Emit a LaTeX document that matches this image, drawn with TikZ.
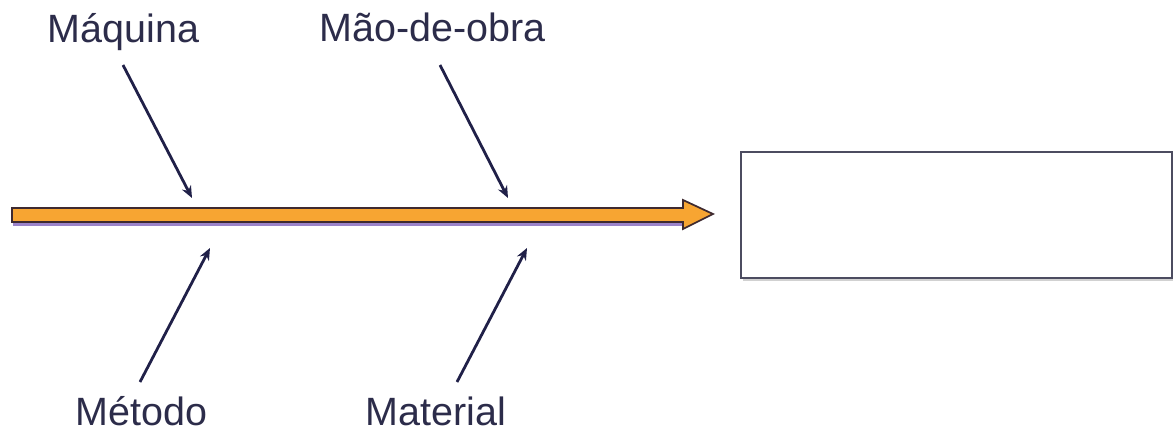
\documentclass[tikz,border=0pt]{standalone}
\usepackage{fontspec}
\setmainfont{Liberation Sans}
\usetikzlibrary{arrows.meta}
\definecolor{spineorange}{HTML}{F7A532}
\definecolor{spineedge}{HTML}{3E2A30}
\definecolor{spineshade}{HTML}{7A5AB8}
\definecolor{causeink}{HTML}{202048}
\definecolor{labelink}{HTML}{2C2C4A}
\definecolor{boxedge}{HTML}{4C4C60}
\tikzset{
  causelabel/.style={anchor=base, text=labelink, inner sep=0pt,
    font=\fontsize{29.6pt}{34pt}\selectfont},
  causearrow/.style={draw=causeink, line width=2.1pt,
    -{Stealth[length=9pt,width=7.5pt]}},
  effectbox/.style={draw=boxedge, line width=1.4pt, fill=white},
  spine/.style={draw=spineedge, line width=1.3pt, fill=spineorange, line join=miter},
}
\begin{document}
\begin{tikzpicture}[x=0.75pt, y=-0.75pt]
\useasboundingbox (0,0) rectangle (1173,435);

% effect box with a soft shadow
\fill[black!18] (743,155) rectangle (1173,281);
\node[effectbox, minimum width=431*0.75pt, minimum height=126*0.75pt,
      anchor=north west, inner sep=0pt] (effect) at (740,151) {};

% main spine arrow
\coordinate (tail) at (12,215);
\coordinate (tip) at (713,214);
\fill[spineshade!75] (13,219) -- (684,219) -- (684,226) -- (13,226) -- cycle;
\path[spine] (tail |- 0,208) -- (683,208) -- (683,200) -- (tip) -- (683,229)
  -- (683,222) -- (tail |- 0,222) -- cycle;

% cause labels
\node[causelabel] (maq) at (123.5,43) {Máquina};
\node[causelabel] (mao) at (432.5,42) {Mão-de-obra};
\node[causelabel] (met) at (141.5,425) {Método};
\node[causelabel] (mat) at (436,425) {Material};

% arrow ends on the spine
\coordinate (maqS) at (123,65);
\coordinate (maqE) at (192,198);
\coordinate (maoS) at (440,65);
\coordinate (maoE) at (508,198);
\coordinate (metS) at (140,382);
\coordinate (metE) at (210,248);
\coordinate (matS) at (457,382);
\coordinate (matE) at (527,248);

\draw[causearrow] (maqS) -- (maqE);
\draw[causearrow] (maoS) -- (maoE);
\draw[causearrow] (metS) -- (metE);
\draw[causearrow] (matS) -- (matE);
\end{tikzpicture}
\end{document}
